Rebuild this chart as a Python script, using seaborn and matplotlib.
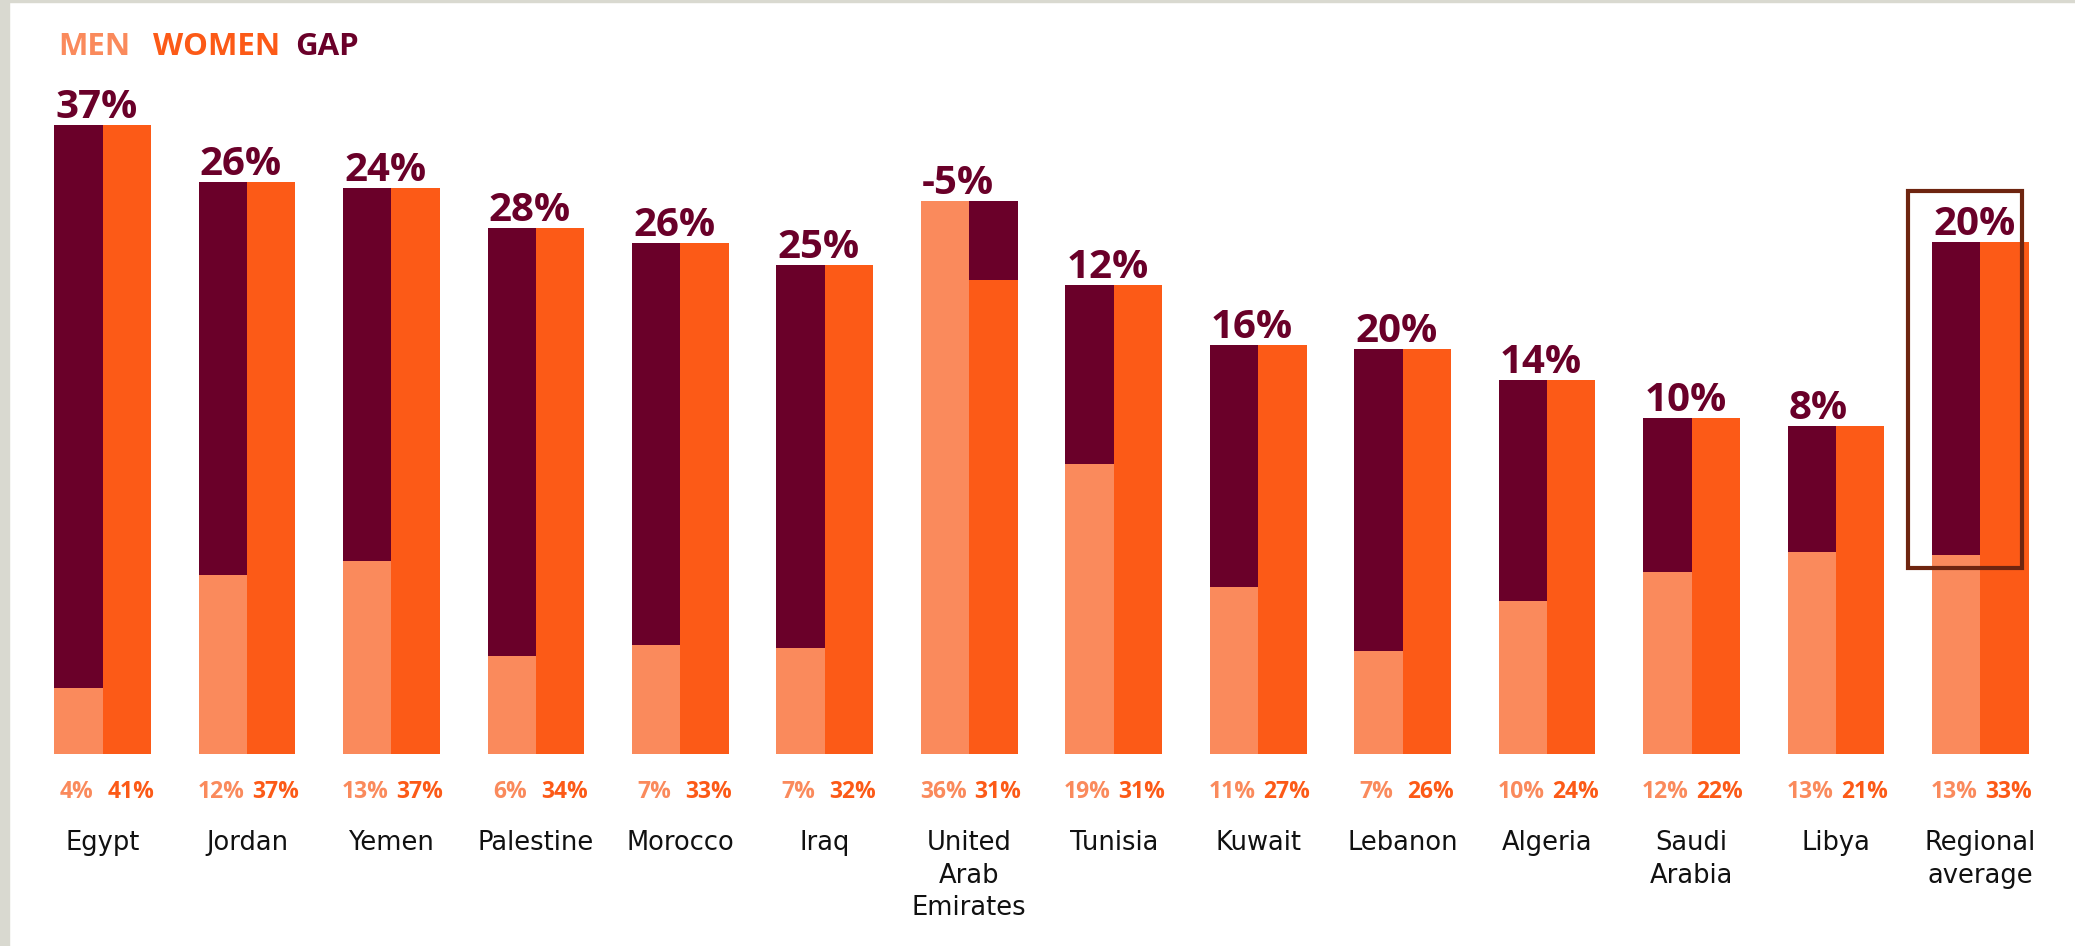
import numpy as np
import pandas as pd
import matplotlib
matplotlib.use("Agg")
import matplotlib.pyplot as plt
from matplotlib.patches import Rectangle
import seaborn as sns

countries = ["Egypt", "Jordan", "Yemen", "Palestine", "Morocco", "Iraq",
             "United\nArab\nEmirates", "Tunisia", "Kuwait", "Lebanon",
             "Algeria", "Saudi\nArabia", "Libya", "Regional\naverage"]
men = [4.3, 11.7, 12.6, 6.4, 7.1, 6.9, 36.1, 18.9, 10.9, 6.7, 10.0, 11.9, 13.2, 13.0]
women = [41.0, 37.3, 36.9, 34.3, 33.3, 31.9, 30.9, 30.6, 26.7, 26.4, 24.4, 21.9, 21.4, 33.4]

men_color = "#FA8A5C"
women_color = "#FC5A17"
gap_color = "#6A0029"
box_color = "#6E2510"
border_grey = "#D9D9D0"

sns.set_style("white")
plt.rcParams["font.family"] = ["Open Sans", "DejaVu Sans"]

n = len(countries)
top = np.maximum(men, women)
gap = np.array(women) - np.array(men)

df = pd.DataFrame({
    "country": countries * 2,
    "side": ["men"] * n + ["women"] * n,
    "value": men + women,
    "top": list(top) * 2,
})

fig = plt.figure(figsize=(20.75, 9.46), dpi=100)
ax = fig.add_axes([30.3 / 2075, 192 / 946, 2022.4 / 2075, 689.9 / 946])

# back layer: the gap colour up to the higher of the two values
sns.barplot(data=df, x="country", y="top", hue="side", order=countries,
            hue_order=["men", "women"], palette=[gap_color, gap_color],
            width=0.67, gap=0, saturation=1, errorbar=None, legend=False,
            linewidth=0, ax=ax)
# front layer: men / women
sns.barplot(data=df, x="country", y="value", hue="side", order=countries,
            hue_order=["men", "women"], palette=[men_color, women_color],
            width=0.67, gap=0, saturation=1, errorbar=None, legend=False,
            linewidth=0, ax=ax)

ax.set_xlim(-0.5, n - 0.5)
ax.set_ylim(0, 45)
ax.set_xticks([])
ax.set_yticks([])
ax.set_xlabel("")
ax.set_ylabel("")
sns.despine(ax=ax, left=True, bottom=True)

half = 0.67 / 2
for i in range(n):
    ax.annotate(f"{gap[i]:.0f}%", (i - half, top[i]), xytext=(1, 7),
                textcoords="offset pixels", ha="left", va="baseline",
                fontsize=29, fontweight="bold", color=gap_color)
    ax.annotate(f"{men[i]:.0f}%", (i - half / 2, 0), xytext=(-2, -44),
                textcoords="offset pixels", ha="center", va="baseline",
                fontsize=16.5, fontweight="bold", color=men_color)
    ax.annotate(f"{women[i]:.0f}%", (i + half / 2, 0), xytext=(4, -44),
                textcoords="offset pixels", ha="center", va="baseline",
                fontsize=16.5, fontweight="bold", color=women_color)
    ax.annotate(countries[i], (i, 0), xytext=(0, -76),
                textcoords="offset pixels", ha="center", va="top",
                fontsize=18.5, color="#111111", family="DejaVu Sans",
                linespacing=1.33, annotation_clip=False)

# highlight box round the regional average
ax.add_patch(Rectangle((n - 1 - 0.5, 12.1), 0.785, 24.6, fill=False,
                       edgecolor=box_color, linewidth=3, clip_on=False))

# legend words
fig.text(58 / 2075, 1 - 55 / 946, "MEN", color=men_color, fontsize=22.5,
         fontweight="bold", va="baseline")
fig.text(153 / 2075, 1 - 55 / 946, "WOMEN", color=women_color, fontsize=22.5,
         fontweight="bold", va="baseline")
fig.text(295 / 2075, 1 - 55 / 946, "GAP", color=gap_color, fontsize=22.5,
         fontweight="bold", va="baseline")

# grey frame on the left and top edge
fig.add_artist(Rectangle((0, 0), 9 / 2075, 1, transform=fig.transFigure,
                         color=border_grey, zorder=10))
fig.add_artist(Rectangle((0, 1 - 2 / 946), 1, 2 / 946, transform=fig.transFigure,
                         color=border_grey, zorder=10))

fig.savefig("out.png", dpi=100, facecolor="white")
